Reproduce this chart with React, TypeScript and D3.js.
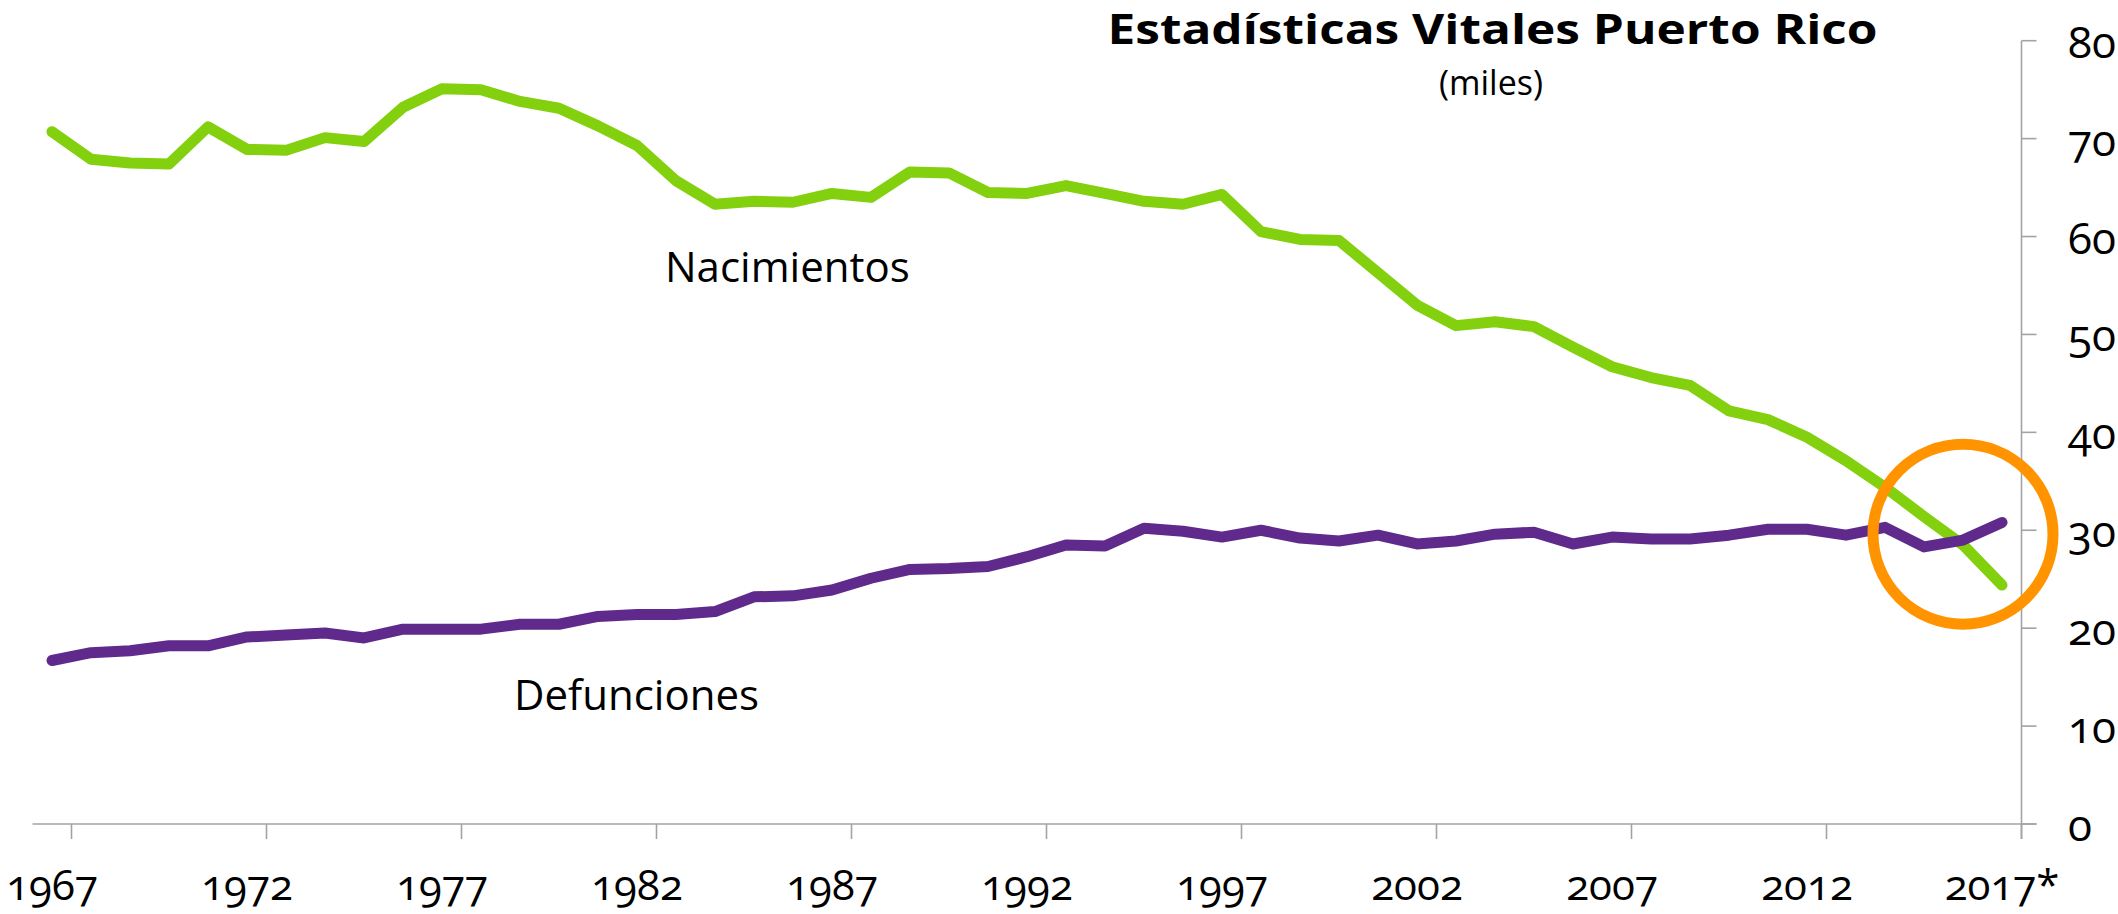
import * as d3 from "d3";

// Estadísticas Vitales Puerto Rico (miles)
const years = d3.range(1967, 2018);

const nacimientos = [
  70.7, 67.9, 67.5, 67.4, 71.2, 68.9, 68.8, 70.1, 69.7, 73.2,
  75.1, 75.0, 73.8, 73.1, 71.3, 69.3, 65.7, 63.3, 63.6, 63.5,
  64.4, 64.0, 66.6, 66.5, 64.5, 64.4, 65.2, 64.4, 63.6, 63.3,
  64.3, 60.5, 59.7, 59.6, 56.3, 53.0, 50.9, 51.3, 50.8, 48.7,
  46.7, 45.6, 44.8, 42.2, 41.3, 39.5, 37.1, 34.4, 31.4, 28.5,
  24.4,
];

const defunciones = [
  16.7, 17.5, 17.7, 18.2, 18.2, 19.1, 19.3, 19.5, 19.0, 19.9,
  19.9, 19.9, 20.4, 20.4, 21.2, 21.4, 21.4, 21.7, 23.2, 23.3,
  23.9, 25.1, 26.0, 26.1, 26.3, 27.3, 28.5, 28.4, 30.2, 29.9,
  29.3, 30.0, 29.2, 28.9, 29.5, 28.6, 28.9, 29.6, 29.8, 28.6,
  29.3, 29.1, 29.1, 29.5, 30.1, 30.1, 29.5, 30.3, 28.3, 29.0,
  30.8,
];

const xTickYears = [1967, 1972, 1977, 1982, 1987, 1992, 1997, 2002, 2007, 2012, 2017];
const xTickLabels = ["1967", "1972", "1977", "1982", "1987", "1992", "1997", "2002", "2007", "2012", "2017*"];
const yTicks = [0, 10, 20, 30, 40, 50, 60, 70, 80];

// highlighted crossing point
const circleYear = 2016;
const circleValue = 29.6;

const width = 2118;
const height = 914;
const font = "'Open Sans', 'DejaVu Sans', sans-serif";

export default function App() {
  const x = d3.scaleLinear().domain([1967, 2017]).range([52, 2002]);
  const y = d3.scaleLinear().domain([0, 80]).range([824, 40.7]);
  const step = x(1968) - x(1967);
  const axisX = x(2017) + step / 2;
  const axisLeft = x(1967) - step / 2;
  const tickLen = 15;
  const axisColor = "#a3a3a3";

  const line = d3.line<number>()
    .x((_, i) => x(years[i]))
    .y(d => y(d));

  return (
    <svg
      width={width}
      height={height}
      style={{ position: "fixed", left: 0, top: 0, background: "#fff" }}
      fontFamily={font}
    >
      {/* title */}
      <text x={1492.5} y={44} textAnchor="middle" fontSize={41} fontWeight="bold"
        textLength={770} lengthAdjust="spacingAndGlyphs">
        Estadísticas Vitales Puerto Rico
      </text>
      <text x={1491} y={95} textAnchor="middle" fontSize={34}>(miles)</text>

      {/* x axis */}
      <line x1={axisLeft} x2={axisX + tickLen} y1={y(0)} y2={y(0)} stroke={axisColor} strokeWidth={1.6} />
      {xTickYears.map((yr, i) => (
        <g key={yr}>
          <line x1={x(yr) + step / 2} x2={x(yr) + step / 2} y1={y(0)} y2={y(0) + tickLen}
            stroke={axisColor} strokeWidth={1.6} />
          <text x={x(yr)} y={900} textAnchor="middle" fontSize={42}
            style={{ fontVariantNumeric: "oldstyle-nums" }}>
            {xTickLabels[i]}
          </text>
        </g>
      ))}

      {/* y axis (right) */}
      <line x1={axisX} x2={axisX} y1={y(80)} y2={y(0) + tickLen} stroke={axisColor} strokeWidth={1.6} />
      {yTicks.map(t => (
        <g key={t}>
          <line x1={axisX} x2={axisX + tickLen} y1={y(t)} y2={y(t)} stroke={axisColor} strokeWidth={1.6} />
          <text x={2068} y={y(t) + 17} fontSize={44} style={{ fontVariantNumeric: "oldstyle-nums" }}>
            {t}
          </text>
        </g>
      ))}

      {/* series */}
      <path d={line(nacimientos) ?? ""} fill="none" stroke="#83d00f" strokeWidth={11}
        strokeLinejoin="round" strokeLinecap="round" />
      <path d={line(defunciones) ?? ""} fill="none" stroke="#5f2a8c" strokeWidth={11}
        strokeLinejoin="round" strokeLinecap="round" />

      {/* series labels */}
      <text x={665} y={282} fontSize={42}>Nacimientos</text>
      <text x={514} y={710} fontSize={42}>Defunciones</text>

      {/* highlight */}
      <circle cx={x(circleYear)} cy={y(circleValue)} r={90} fill="none" stroke="#ff9400" strokeWidth={11} />
    </svg>
  );
}
